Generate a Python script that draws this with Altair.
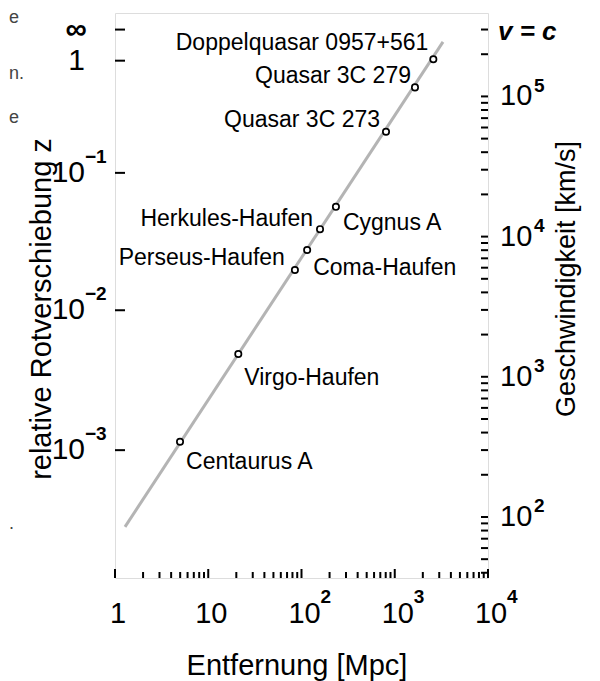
import math
import altair as alt
import pandas as pd

C_KMS = 299792.458

# ---------------- data ----------------
names = ["Centaurus A", "Virgo-Haufen", "Perseus-Haufen", "Coma-Haufen",
         "Herkules-Haufen", "Cygnus A", "Quasar 3C 273", "Quasar 3C 279",
         "Doppelquasar 0957+561"]
distance_mpc = [4.98, 21.0, 85.0, 115.0, 158.0, 234.0, 806.0, 1648.0, 2593.0]
velocity_kms = [344, 1455, 5780, 8020, 11300, 16300, 56000, 116000, 184000]

line_distance = [1.28, 3290.0]
line_velocity = [85.0, 245000.0]

x_major = [1, 10, 100, 1000, 10000]
x_major_base = ["1", "10", "10", "10", "10"]
x_major_exp = ["", "", "2", "3", "4"]

z_ticks = [math.inf, 1.0, 0.1, 0.01, 0.001]
z_base = ["∞", "1", "10", "10", "10"]
z_exp = ["", "", "−1", "−2", "−3"]

v_major = [100, 1000, 10000, 100000]
v_major_exp = ["2", "3", "4", "5"]
v_c_label = "v = c"

x_title = "Entfernung [Mpc]"
z_title = "relative Rotverschiebung z"
v_title = "Geschwindigkeit [km/s]"

stray_text = ["e", "n.", "e", "."]

# ---------------- layout / style ----------------
W, H = 373, 565
FONT = "Liberation Sans"
LINE_GRAY = "#b4b4b4"


def z_to_v(z):
    if math.isinf(z):
        return C_KMS
    s = (1 + z) ** 2
    return C_KMS * (s - 1) / (s + 1)


xs = alt.Scale(type="log", domain=[1, 10000], nice=False)
ys = alt.Scale(type="log", domain=[36.7, 393600], nice=False, zero=False)

X = lambda f: alt.X(f, type="quantitative", scale=xs, axis=None)
Y = lambda f: alt.Y(f, type="quantitative", scale=ys, axis=None)

pts = pd.DataFrame({"name": names, "d": distance_mpc, "v": velocity_kms})
line_df = pd.DataFrame({"d": line_distance, "v": line_velocity})
xt = pd.DataFrame({"x": x_major, "base": x_major_base, "exp": x_major_exp})
x_minor = pd.DataFrame({"x": [m * 10 ** k for k in range(4) for m in range(2, 10)]})
zt = pd.DataFrame({"v": [z_to_v(z) for z in z_ticks], "base": z_base, "exp": z_exp})
vt = pd.DataFrame({"v": v_major, "exp": v_major_exp})
v_all = [m * 10 ** k for k in range(1, 6) for m in range(1, 10)]
v_all = [v for v in v_all if 36.7 <= v <= 393600]
v_minor = pd.DataFrame({"v": v_all})
vc = pd.DataFrame({"v": [C_KMS], "t": [v_c_label]})

layers = []

# Hubble line
layers.append(alt.Chart(line_df).mark_line(color=LINE_GRAY, strokeWidth=3)
              .encode(x=X("d"), y=Y("v")))

# ticks (pointing inward)
layers.append(alt.Chart(x_minor).mark_rule(color="black", strokeWidth=2)
              .encode(x=X("x"), y=alt.value(H), y2=alt.value(H - 6)))
layers.append(alt.Chart(xt).mark_rule(color="black", strokeWidth=2)
              .encode(x=X("x"), y=alt.value(H), y2=alt.value(H - 9)))
layers.append(alt.Chart(zt).mark_rule(color="black", strokeWidth=2)
              .encode(y=Y("v"), x=alt.value(0), x2=alt.value(10)))
layers.append(alt.Chart(v_minor).mark_rule(color="black", strokeWidth=2)
              .encode(y=Y("v"), x=alt.value(W - 7), x2=alt.value(W)))

# points
layers.append(alt.Chart(pts).mark_point(shape="circle", filled=True, color="white",
                                         stroke="black", strokeWidth=1.7, size=40, opacity=1)
              .encode(x=X("d"), y=Y("v")))

# point labels
label_style = {
    "Centaurus A": ("left", 6, 27),
    "Virgo-Haufen": ("left", 6, 31),
    "Perseus-Haufen": ("right", -10, -5),
    "Coma-Haufen": ("left", 6, 25),
    "Herkules-Haufen": ("right", -7, -3),
    "Cygnus A": ("left", 7, 23),
    "Quasar 3C 273": ("right", -6, -5),
    "Quasar 3C 279": ("right", -4, -4),
    "Doppelquasar 0957+561": ("right", -5, -9),
}
for nm in names:
    al, dx, dy = label_style[nm]
    layers.append(alt.Chart(pts).transform_filter(alt.datum.name == nm)
                  .mark_text(align=al, baseline="alphabetic", dx=dx, dy=dy,
                             font=FONT, fontSize=23, color="black")
                  .encode(x=X("d"), y=Y("v"), text="name:N"))

# bottom tick labels
layers.append(alt.Chart(xt).mark_text(align="center", baseline="alphabetic", dx=3,
                                       font=FONT, fontSize=29, color="black")
              .encode(x=X("x"), y=alt.value(H + 45), text="base:N"))
layers.append(alt.Chart(xt).mark_text(align="left", baseline="alphabetic", dx=19,
                                       font=FONT, fontSize=19, fontWeight="bold", color="black")
              .encode(x=X("x"), y=alt.value(H + 25), text="exp:N"))

# left (z) tick labels
layers.append(alt.Chart(zt).transform_filter(alt.datum.base != "∞")
              .mark_text(align="right", baseline="middle", font=FONT, fontSize=30, color="black")
              .encode(y=Y("v"), x=alt.value(-30), text="base:N"))
layers.append(alt.Chart(zt).transform_filter(alt.datum.base == "∞")
              .mark_text(align="right", baseline="middle", font=FONT, fontSize=30,
                         fontWeight="bold", color="black")
              .encode(y=Y("v"), x=alt.value(-28), text="base:N"))
layers.append(alt.Chart(zt).mark_text(align="left", baseline="middle", dy=-16,
                                       font=FONT, fontSize=19, fontWeight="bold", color="black")
              .encode(y=Y("v"), x=alt.value(-30), text="exp:N"))

# right (v) tick labels
layers.append(alt.Chart(vt).mark_text(align="left", baseline="middle", font=FONT,
                                       fontSize=29, color="black")
              .encode(y=Y("v"), x=alt.value(W + 12), text=alt.value("10")))
layers.append(alt.Chart(vt).mark_text(align="left", baseline="middle", dy=-10.5, font=FONT,
                                       fontSize=19, fontWeight="bold", color="black")
              .encode(y=Y("v"), x=alt.value(W + 46), text="exp:N"))
layers.append(alt.Chart(vc).mark_text(align="left", baseline="middle", dy=2, font=FONT,
                                       fontSize=26, fontStyle="italic", fontWeight="bold",
                                       color="black")
              .encode(y=Y("v"), x=alt.value(W + 10), text="t:N"))

# axis titles
layers.append(alt.Chart(pd.DataFrame({"t": [x_title]}))
              .mark_text(align="center", baseline="alphabetic", font=FONT, fontSize=29, color="black")
              .encode(x=alt.value(182), y=alt.value(H + 97), text="t:N"))
layers.append(alt.Chart(pd.DataFrame({"t": [z_title]}))
              .mark_text(align="center", baseline="middle", angle=270, font=FONT,
                         fontSize=29, color="black")
              .encode(x=alt.value(-73), y=alt.value(296), text="t:N"))
layers.append(alt.Chart(pd.DataFrame({"t": [v_title]}))
              .mark_text(align="center", baseline="middle", angle=270, font=FONT,
                         fontSize=27, color="black")
              .encode(x=alt.value(452), y=alt.value(266), text="t:N"))

# fragments of neighbouring text at the left edge
stray_y = [5, 61, 105, 511]
for t, yy in zip(stray_text, stray_y):
    layers.append(alt.Chart(pd.DataFrame({"t": [t]}))
                  .mark_text(align="left", baseline="middle", font=FONT, fontSize=18,
                             color="#444444")
                  .encode(x=alt.value(-106), y=alt.value(yy), text="t:N"))

chart = (alt.layer(*layers)
         .properties(width=W, height=H,
                     padding={"left": 107, "top": 5, "right": 104, "bottom": 103},
                     autosize=alt.AutoSizeParams(type="none"))
         .configure_view(stroke="black", strokeWidth=2)
         .configure(background="white"))

chart.save("out.html", embed_options={"renderer": "svg", "actions": False})
